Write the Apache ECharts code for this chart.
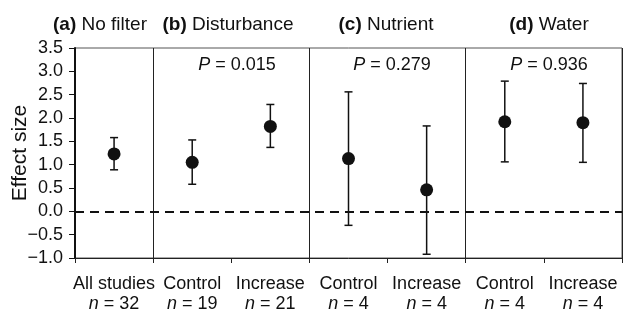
<!DOCTYPE html>
<html>
<head>
<meta charset="utf-8">
<script src="https://cdn.jsdelivr.net/npm/echarts@6/dist/echarts.min.js"></script>
<style>
  html, body { margin: 0; padding: 0; background: #fff; }
  #chart { width: 627px; height: 312px; }
</style>
</head>
<body>
<div id="chart"></div>
<script>
const categories = ['All studies', 'Control', 'Increase', 'Control', 'Increase', 'Control', 'Increase']
const sampleSizes = [32, 19, 21, 4, 4, 4, 4]
const means = [1.23, 1.05, 1.82, 1.13, 0.46, 1.92, 1.90]
const lower = [0.89, 0.58, 1.37, -0.30, -0.92, 1.06, 1.05]
const upper = [1.58, 1.53, 2.29, 2.56, 1.83, 2.79, 2.74]
const panelTitles = [['(a)', 'No filter'], ['(b)', 'Disturbance'], ['(c)', 'Nutrient'], ['(d)', 'Water']]
const pValues = ['', '0.015', '0.279', '0.936']

const font = 'Liberation Sans, Arial, Helvetica, sans-serif'
const chart = echarts.init(document.getElementById('chart'))

// panel title / P-value centres (x px)
const titleX = [100, 228, 386, 549]
const pX = [0, 237, 392, 549]

const graphics = []
panelTitles.forEach((t, i) => {
  graphics.push({
    type: 'text',
    x: titleX[i],
    y: 25,
    style: {
      text: '{b|' + t[0] + '} ' + t[1],
      align: 'center',
      verticalAlign: 'middle',
      fontFamily: font,
      fontSize: 19,
      fill: '#111',
      rich: { b: { fontWeight: 'bold', fontSize: 19, fontFamily: font, fill: '#111' } }
    }
  })
  if (pValues[i]) {
    graphics.push({
      type: 'text',
      x: pX[i],
      y: 65,
      style: {
        text: '{i|P} = ' + pValues[i],
        align: 'center',
        verticalAlign: 'middle',
        fontFamily: font,
        fontSize: 18,
        fill: '#111',
        rich: { i: { fontStyle: 'italic', fontSize: 18, fontFamily: font, fill: '#111' } }
      }
    })
  }
})

chart.setOption({
  animation: false,
  grid: {
    left: 75,
    right: 5,
    top: 48,
    bottom: 54,
    containLabel: false,
    outerBoundsMode: 'none',
    show: true,
    borderColor: '#555',
    borderWidth: 1
  },
  graphic: graphics,
  xAxis: {
    type: 'category',
    data: categories,
    boundaryGap: true,
    axisLine: { onZero: false, lineStyle: { color: '#222', width: 1 } },
    axisTick: { show: true, length: 5, lineStyle: { color: '#222' } },
    splitLine: {
      show: true,
      interval: (index) => index === 1 || index === 3 || index === 5,
      lineStyle: { color: '#222', width: 1 }
    },
    axisLabel: {
      interval: 0,
      margin: 16,
      fontFamily: font,
      fontSize: 18,
      color: '#111',
      lineHeight: 20,
      formatter: (v, i) => '{t|' + v + '}\n{n|n} {t|= ' + sampleSizes[i] + '}',
      rich: {
        t: { fontFamily: font, fontSize: 18, color: '#111', lineHeight: 20 },
        n: { fontFamily: font, fontSize: 18, color: '#111', fontStyle: 'italic', lineHeight: 20 }
      }
    }
  },
  yAxis: {
    type: 'value',
    min: -1,
    max: 3.5,
    interval: 0.5,
    name: 'Effect size',
    nameLocation: 'middle',
    nameGap: 44,
    nameMoveOverlap: false,
    nameTextStyle: { fontFamily: font, fontSize: 21, color: '#111' },
    axisLine: { show: true, lineStyle: { color: '#111', width: 2 } },
    axisTick: { show: true, length: 6, lineStyle: { color: '#111' } },
    splitLine: { show: false },
    axisLabel: {
      fontFamily: font,
      fontSize: 18,
      color: '#111',
      margin: 12,
      formatter: (v) => {
        const s = v.toFixed(1)
        return v < 0 ? '\u2212' + s.slice(1) : s
      }
    }
  },
  series: [
    {
      type: 'custom',
      name: 'CI',
      data: categories.map((c, i) => [i, lower[i], upper[i]]),
      renderItem: (params, api) => {
        const x = api.value(0)
        const lo = api.coord([x, api.value(1)])
        const hi = api.coord([x, api.value(2)])
        const cap = 4
        const style = { stroke: '#111', lineWidth: 1.5 }
        return {
          type: 'group',
          children: [
            { type: 'line', shape: { x1: lo[0], y1: lo[1], x2: hi[0], y2: hi[1] }, style },
            { type: 'line', shape: { x1: hi[0] - cap, y1: hi[1], x2: hi[0] + cap, y2: hi[1] }, style },
            { type: 'line', shape: { x1: lo[0] - cap, y1: lo[1], x2: lo[0] + cap, y2: lo[1] }, style }
          ]
        }
      },
      z: 3
    },
    {
      type: 'scatter',
      name: 'Mean',
      data: means,
      symbol: 'circle',
      symbolSize: 13,
      itemStyle: { color: '#111', opacity: 1 },
      z: 4,
      markLine: {
        silent: true,
        symbol: 'none',
        label: { show: false },
        lineStyle: { color: '#111', type: [9, 6], width: 2 },
        data: [{ yAxis: 0 }]
      }
    }
  ]
})
</script>
</body>
</html>
